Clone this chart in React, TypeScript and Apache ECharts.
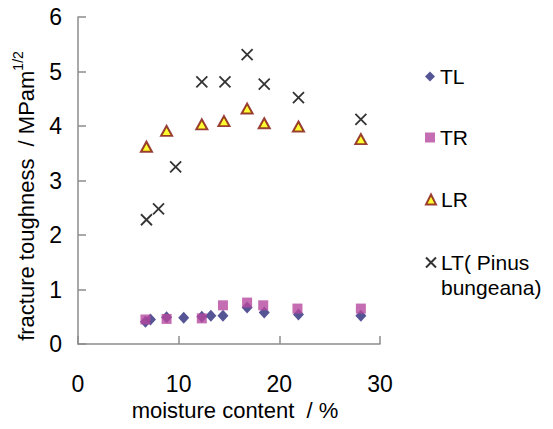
import React, { useEffect, useRef } from "react";
import * as echarts from "echarts";

const tlX = [6.7, 7.2, 8.8, 10.5, 12.3, 13.2, 14.4, 16.8, 18.5, 21.9, 28.1];
const tlY = [0.41, 0.45, 0.49, 0.48, 0.5, 0.52, 0.52, 0.67, 0.58, 0.54, 0.52];

const trX = [6.7, 8.8, 12.3, 14.4, 16.8, 18.4, 21.8, 28.1];
const trY = [0.45, 0.46, 0.47, 0.71, 0.76, 0.71, 0.65, 0.65];

const lrX = [6.8, 8.8, 12.3, 14.5, 16.8, 18.5, 21.9, 28.1];
const lrY = [3.62, 3.91, 4.03, 4.09, 4.32, 4.05, 3.99, 3.76];

const ltX = [6.8, 8.0, 9.7, 12.3, 14.6, 16.8, 18.5, 21.9, 28.1];
const ltY = [2.28, 2.48, 3.25, 4.81, 4.81, 5.31, 4.77, 4.52, 4.12];

const seriesNames = ["TL", "TR", "LR", "LT( Pinus bungeana)"];
const xTicks = { min: 0, max: 30, interval: 10 };
const yTicks = { min: 0, max: 6, interval: 1 };

const pairs = (xs: number[], ys: number[]) => xs.map((x, i) => [x, ys[i]]);

const FONT = "'Liberation Sans', Arial, sans-serif";
const CROSS = "path://M0,0L10,10M10,0L0,10";

export default function App() {
  const ref = useRef<HTMLDivElement>(null);
  useEffect(() => {
    if (!ref.current) return;
    const chart = echarts.init(ref.current, null, { renderer: "svg" });
    const legendBase = {
      orient: "vertical" as const,
      left: 425,
      padding: 0,
      itemWidth: 10,
      itemHeight: 10,
      selectedMode: false,
      textStyle: { fontFamily: FONT, fontSize: 21, color: "#000", lineHeight: 25 },
    };
    chart.setOption({
      animation: false,
      backgroundColor: "#fff",
      grid: { left: 78, right: 173, top: 17, bottom: 85, containLabel: false },
      xAxis: {
        type: "value",
        ...xTicks,
        name: "moisture content  / %",
        nameLocation: "middle",
        nameGap: 52,
        nameTextStyle: { fontFamily: FONT, fontSize: 22, color: "#000", padding: [0, 0, 0, 12] },
        axisLine: { show: true, lineStyle: { color: "#8c8c8c", width: 1.5 } },
        axisTick: { show: true, inside: true, length: 8, lineStyle: { color: "#8c8c8c", width: 1.5 } },
        axisLabel: { fontFamily: FONT, fontSize: 23, color: "#000", margin: 28 },
        splitLine: { show: false },
      },
      yAxis: {
        type: "value",
        ...yTicks,
        axisLine: { show: true, lineStyle: { color: "#8c8c8c", width: 1.5 } },
        axisTick: { show: true, inside: true, length: 8, lineStyle: { color: "#8c8c8c", width: 1.5 } },
        axisLabel: { fontFamily: FONT, fontSize: 23, color: "#000", margin: 16 },
        splitLine: { show: false },
      },
      legend: [
        { ...legendBase, top: 64, data: [seriesNames[0]] },
        { ...legendBase, top: 125, data: [seriesNames[1]] },
        { ...legendBase, top: 187, data: [seriesNames[2]] },
        {
          ...legendBase,
          top: 225,
          data: [seriesNames[3]],
          formatter: () => "\nLT( Pinus\nbungeana)",
        },
      ],
      graphic: [
        {
          type: "text",
          x: 24,
          y: 196,
          rotation: Math.PI / 2,
          style: {
            text: "{b|fracture toughness  / MPam}{s|1/2}",
            align: "center",
            verticalAlign: "middle",
            fill: "#000",
            rich: {
              b: { fontFamily: FONT, fontSize: 22, fill: "#000", lineHeight: 26, verticalAlign: "bottom" },
              s: { fontFamily: FONT, fontSize: 14, fill: "#000", lineHeight: 26, verticalAlign: "top" },
            },
          },
        },
      ],
      series: [
        {
          name: seriesNames[0],
          type: "scatter",
          symbol: "diamond",
          symbolSize: [11, 12],
          itemStyle: { color: "#2b2a7c" },
          data: pairs(tlX, tlY),
          z: 2,
        },
        {
          name: seriesNames[1],
          type: "scatter",
          symbol: "rect",
          symbolSize: 10,
          itemStyle: { color: "#b5489f" },
          data: pairs(trX, trY),
          z: 3,
        },
        {
          name: seriesNames[2],
          type: "scatter",
          symbol: "triangle",
          symbolSize: [11, 10],
          itemStyle: { color: "#ffff00", borderColor: "#7f1010", borderWidth: 2 },
          data: pairs(lrX, lrY),
          z: 4,
        },
        {
          name: seriesNames[3],
          type: "scatter",
          symbol: CROSS,
          symbolSize: 11,
          itemStyle: { color: "transparent", borderColor: "#000", borderWidth: 1.8 },
          data: pairs(ltX, ltY),
          z: 5,
        },
      ],
    });
    return () => chart.dispose();
  }, []);
  return <div ref={ref} style={{ width: 553, height: 429, position: "absolute", left: 0, top: 0 }} />;
}
